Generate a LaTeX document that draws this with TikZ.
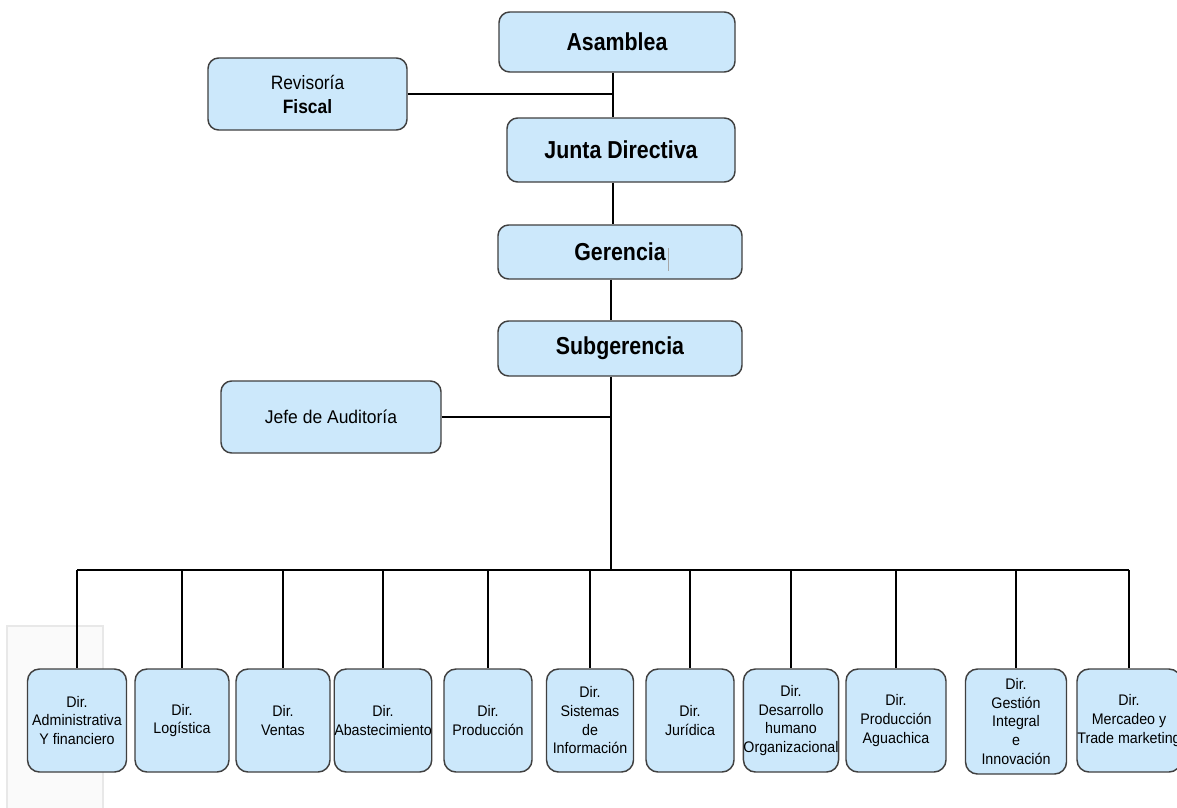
\documentclass[tikz,border=0pt]{standalone}
\usepackage{fontspec}
\setmainfont{Liberation Sans}
\newfontfamily\titlefont[FakeStretch=0.87]{Liberation Sans}
\newfontfamily\revfont[FakeStretch=0.9]{Liberation Sans}
\newfontfamily\jefefont[FakeStretch=0.95]{Liberation Sans}
\newfontfamily\dirfont[FakeStretch=0.93]{Liberation Sans}
\definecolor{boxfill}{RGB}{204,232,251}
\definecolor{boxline}{RGB}{64,64,64}
\tikzset{
  box/.style={draw=boxline, line width=1.1pt, fill=boxfill, rounded corners=8pt, align=center, inner sep=0pt},
  titlebox/.style={box, font=\titlefont\bfseries\fontsize{18.4}{21}\selectfont},
  dirbox/.style={box, rounded corners=9pt, minimum height=77.25pt, font=\dirfont\fontsize{11.5}{14}\selectfont},
  conn/.style={line width=1pt, black},
}
\begin{document}
\begin{tikzpicture}[x=0.75pt, y=-0.75pt]
\clip (0,0) rectangle (1177,807);
\fill[white] (0,0) rectangle (1177,807);
% faint background picture frame
\draw[gray!18, fill=gray!4, line width=0.8pt] (7,626) rectangle (103,812);

\coordinate (sp) at (613,0);
\coordinate (bus) at (611,570);

\node[titlebox, minimum width=177pt, minimum height=45pt] (asam) at (617,42) {Asamblea};
\node[box, minimum width=149.25pt, minimum height=54pt, font=\revfont\fontsize{14.5}{18}\selectfont] (rev) at (307.5,94) {Revisoría\\\textbf{Fiscal}};
\node[titlebox, minimum width=171pt, minimum height=48pt] (junta) at (621,150) {Junta Directiva};
\node[titlebox, minimum width=183pt, minimum height=40.5pt] (ger) at (620,252) {Gerencia};
\node[titlebox, minimum width=183pt, minimum height=41.25pt] (sub) at (620,348.5) {Subgerencia};
\node[box, minimum width=165pt, minimum height=54pt, font=\jefefont\fontsize{13.8}{16}\selectfont] (jefe) at (331,417) {Jefe de Auditoría};

% text cursor after Gerencia
\draw[gray!70, line width=0.5pt] (668,248) -- (668,271);

% bottom directorates
\node[dirbox, minimum width=74.25pt] (b1) at (77,720.5) {Dir.\\Administrativa\\Y financiero};
\node[dirbox, minimum width=70.5pt] (b2) at (182,720.5) {Dir.\\Logística};
\node[dirbox, minimum width=70.5pt] (b3) at (283,720.5) {Dir.\\Ventas};
\node[dirbox, minimum width=71.25pt] (b4) at (383,720.5) {Dir.\\Abastecimiento};
\node[dirbox, minimum width=66pt] (b5) at (488,720.5) {Dir.\\Producción};
\node[dirbox, minimum width=65.25pt] (b6) at (590,720.5) {Dir.\\Sistemas\\de\\Información};
\node[dirbox, minimum width=66pt] (b7) at (690,720.5) {Dir.\\Jurídica};
\node[dirbox, minimum width=66.75pt] (b8) at (791,720.5) {Dir.\\Desarrollo\\humano\\Organizacional};
\node[dirbox, minimum width=75pt] (b9) at (896,720.5) {Dir.\\Producción\\Aguachica};
\node[dirbox, minimum width=75.75pt, minimum height=78.75pt] (b10) at (1016,721.5) {Dir.\\Gestión\\Integral\\e\\Innovación};
\node[dirbox, minimum width=78pt] (b11) at (1129,720.5) {Dir.\\Mercadeo y\\Trade marketing};

% connectors
\draw[conn] (asam.south -| sp) -- (junta.north -| sp);
\draw[conn] (rev.east) -- (rev.east -| sp);
\draw[conn] (junta.south -| sp) -- (ger.north -| sp);
\draw[conn] (ger.south -| bus) -- (sub.north -| bus);
\draw[conn] (sub.south -| bus) -- (bus);
\draw[conn] (jefe.east) -- (jefe.east -| bus);
\draw[conn] (b1.north |- bus) -- (b11.north |- bus);
\foreach \b in {b1,b2,b3,b4,b5,b6,b7,b8,b9,b10,b11}
  \draw[conn] (\b.north |- bus) -- (\b.north);
\end{tikzpicture}
\end{document}
